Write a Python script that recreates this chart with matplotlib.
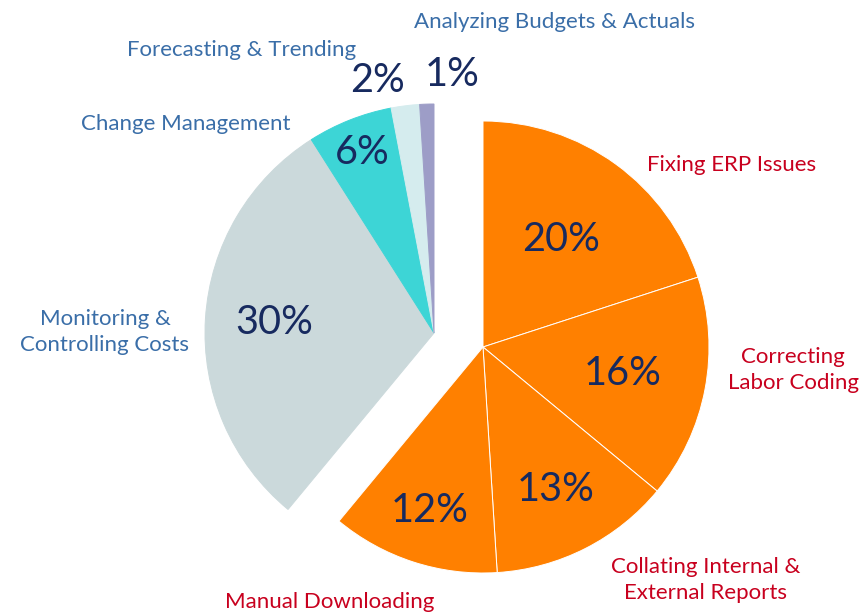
import numpy as np
import matplotlib.pyplot as plt

plt.rcParams['font.family'] = ['Lato', 'DejaVu Sans']

labels = ["Fixing ERP Issues", "Correcting\nLabor Coding", "Collating Internal &\nExternal Reports",
          "Manual Downloading", "Monitoring &\nControlling Costs", "Change Management",
          "Forecasting & Trending", "Analyzing Budgets & Actuals"]
values = [20, 16, 13, 12, 30, 6, 2, 1]
colors = ["#ff8000", "#ff8000", "#ff8000", "#ff8000", "#cbd9db", "#3dd5d6", "#d5ecee", "#9d9dc7"]
pulled_out = [True, True, True, True, False, False, False, False]

# layout (pixels, the axes spans the whole figure)
W, H = 861, 615
center = (434, H - 333)
shift = (49, -14)
radius = 229
out_radius = 226
pct_dist = [0.58, 0.62, 0.70, 0.75, 0.70, 0.85, 1.13, 1.13]
pct_turn = [0, 0, 0, 0, 0, 0, 5.3, -5.8]
label_pos = [(732, H - 165), (793, H - 370), (706, H - 580), (330, H - 602),
             (105, H - 332), (186, H - 124), (242, H - 50), (555, H - 22)]

fig = plt.figure(figsize=(W / 100, H / 100), dpi=100)
ax = fig.add_axes([0, 0, 1, 1])

wedges, _ = ax.pie(values, colors=colors, startangle=90, counterclock=False,
                   radius=radius, center=center,
                   wedgeprops=dict(edgecolor="#ffffff", linewidth=0.7))

for w, v, out, d, t, lab, pos in zip(wedges, values, pulled_out, pct_dist, pct_turn, labels, label_pos):
    cx, cy = center
    if out:
        cx, cy = cx + shift[0], cy + shift[1]
        w.set_center((cx, cy))
        w.set_radius(out_radius)
    else:
        w.set_edgecolor(w.get_facecolor())
    mid = np.deg2rad((w.theta1 + w.theta2) / 2 + t)
    ax.text(cx + d * radius * np.cos(mid), cy + d * radius * np.sin(mid), f"{v}%",
            ha="center", va="center", fontsize=28.5, color="#172a5f")
    ax.text(pos[0], pos[1], lab, ha="center", va="center", fontsize=16,
            color="#c8001e" if out else "#3a6ea8", linespacing=1.4)

ax.set_xlim(0, W)
ax.set_ylim(0, H)
ax.set_aspect("equal")
ax.axis("off")

fig.savefig("out.png", dpi=100)
